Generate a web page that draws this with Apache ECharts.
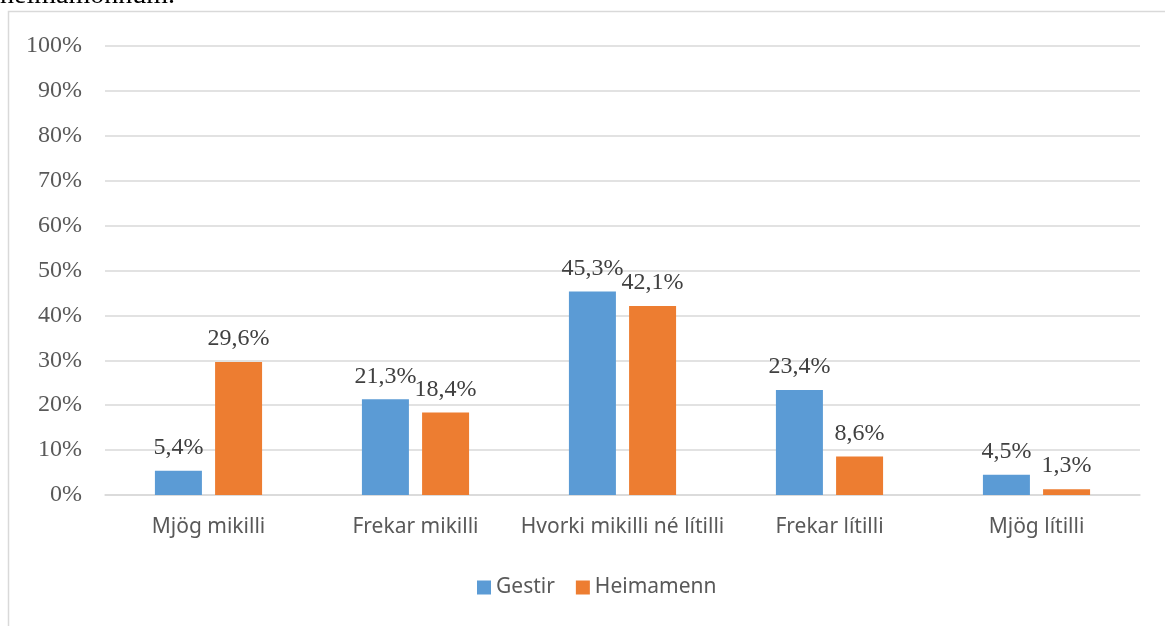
<!DOCTYPE html>
<html>
<head>
<meta charset="utf-8">
<script src="https://cdn.jsdelivr.net/npm/echarts@6/dist/echarts.min.js"></script>
<style>
  html, body { margin: 0; padding: 0; background: #fff; }
  #chart { width: 1165px; height: 626px; }
</style>
</head>
<body>
<div id="chart"></div>
<script>
var categories = ['Mjög mikilli', 'Frekar mikilli', 'Hvorki mikilli né lítilli', 'Frekar lítilli', 'Mjög lítilli'];
var gestir = [5.4, 21.3, 45.3, 23.4, 4.5];
var heimamenn = [29.6, 18.4, 42.1, 8.6, 1.3];
var seriesNames = ['Gestir', 'Heimamenn'];

var myChart = echarts.init(document.getElementById('chart'));

function pct(p) {
    return p.value.toFixed(1).replace('.', ',') + '%';
}

var labelStyle = {
    show: true,
    position: 'top',
    distance: 11,
    formatter: pct,
    fontFamily: 'Liberation Serif',
    fontSize: 24,
    color: '#404040'
};

var option = {
    animation: false,
    backgroundColor: '#fff',
    grid: {
        left: 105,
        right: 25,
        top: 46,
        bottom: 131
    },
    legend: {
        bottom: 23,
        left: 472,
        itemWidth: 14,
        itemHeight: 14,
        itemGap: 21,
        icon: 'rect',
        textStyle: {
            fontFamily: 'Noto Sans',
            fontSize: 21,
            color: '#595959'
        },
        data: seriesNames
    },
    xAxis: {
        type: 'category',
        data: categories,
        axisLine: { lineStyle: { color: '#d9d9d9', width: 1.5 } },
        axisTick: { show: false },
        axisLabel: {
            interval: 0,
            margin: 22,
            fontFamily: 'Noto Sans',
            fontSize: 21,
            color: '#595959'
        }
    },
    yAxis: {
        type: 'value',
        min: 0,
        max: 100,
        interval: 10,
        axisLine: { show: false },
        axisTick: { show: false },
        splitLine: { lineStyle: { color: '#d9d9d9', width: 1.5 } },
        axisLabel: {
            margin: 23,
            formatter: '{value}%',
            fontFamily: 'Liberation Serif',
            fontSize: 24,
            color: '#595959'
        }
    },
    series: [
        {
            name: seriesNames[0],
            type: 'bar',
            data: gestir,
            barWidth: 47,
            barGap: '28%',
            itemStyle: { color: '#5b9bd5' },
            label: labelStyle
        },
        {
            name: seriesNames[1],
            type: 'bar',
            data: heimamenn,
            barWidth: 47,
            barGap: '28%',
            itemStyle: { color: '#ed7d31' },
            label: labelStyle
        }
    ],
    graphic: [
        {
            type: 'rect',
            shape: { x: 8.5, y: 11.5, width: 1300, height: 800 },
            style: { fill: 'none', stroke: '#d9d9d9', lineWidth: 1.5 },
            silent: true
        },
        {
            type: 'text',
            style: {
                x: 0,
                y: 10,
                text: 'heimamönnum.',
                font: '28px "Liberation Serif"',
                fill: '#000',
                verticalAlign: 'bottom'
            },
            silent: true
        }
    ]
};
myChart.setOption(option);
</script>
</body>
</html>
